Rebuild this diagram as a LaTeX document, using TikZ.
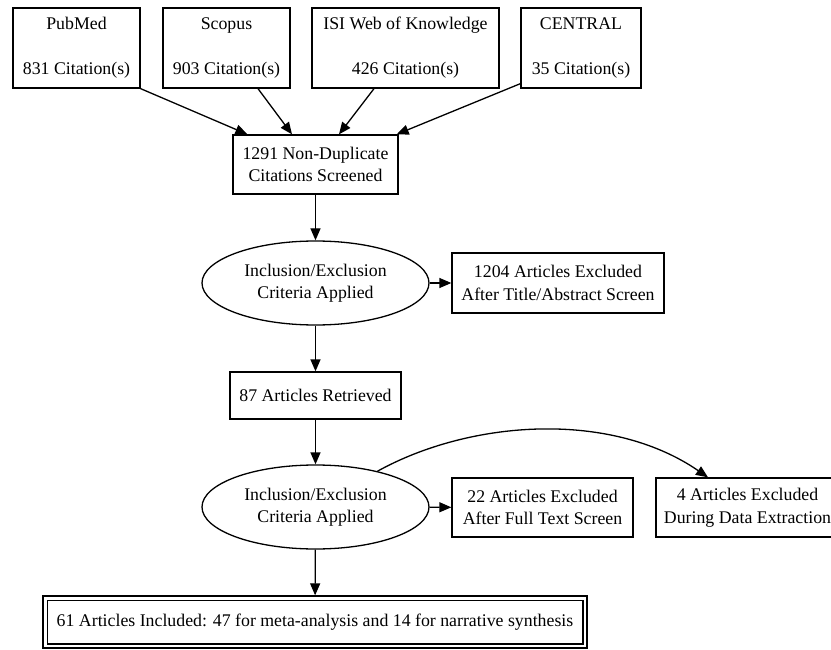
\documentclass[tikz,border=0pt]{standalone}
\usepackage{fontspec}
\setmainfont{Liberation Serif}
\usetikzlibrary{shapes.geometric,arrows.meta,calc}
\begin{document}
\begin{tikzpicture}[x=1pt,y=-1pt,
  every node/.style={font=\fontsize{17.8}{22.5}\selectfont, inner sep=0pt, align=center},
  boxn/.style={draw, rectangle, line width=1.3pt},
  elln/.style={draw, ellipse, line width=1.3pt},
  arr/.style={line width=1.3pt, -{Triangle[length=12pt,width=10pt]}}]
\useasboundingbox (0,0) rectangle (831,650);
\clip (0,0) rectangle (831,650);
% top sources
\node[boxn, minimum width=127pt, minimum height=80pt] (pubmed) at (76.5,48) {PubMed\\[22.5pt]831 Citation(s)};
\node[boxn, minimum width=127pt, minimum height=80pt] (scopus) at (226.5,48) {Scopus\\[22.5pt]903 Citation(s)};
\node[boxn, minimum width=187pt, minimum height=80pt] (isi) at (405.5,48) {ISI Web of Knowledge\\[22.5pt]426 Citation(s)};
\node[boxn, minimum width=120pt, minimum height=80pt] (central) at (581,48) {CENTRAL\\[22.5pt]35 Citation(s)};
% main flow
\node[boxn, minimum width=165pt, minimum height=59pt] (nondup) at (315.5,164.5) {1291 Non-Duplicate\\Citations Screened};
\node[elln, minimum width=227pt, minimum height=84pt] (ell1) at (315.5,283) {Inclusion/Exclusion\\Criteria Applied};
\node[boxn, minimum width=212pt, minimum height=60pt] (exc1) at (558,283) {1204 Articles Excluded\\After Title/Abstract Screen};
\node[boxn, minimum width=171pt, minimum height=47pt] (retr) at (315.5,395.5) {87 Articles Retrieved};
\node[elln, minimum width=227pt, minimum height=84pt] (ell2) at (315.5,507) {Inclusion/Exclusion\\Criteria Applied};
\node[boxn, minimum width=181pt, minimum height=59pt] (exc2) at (542.5,507.5) {22 Articles Excluded\\After Full Text Screen};
\node[boxn, minimum width=183pt, minimum height=59pt] (exc3) at (747.5,507.5) {4 Articles Excluded\\During Data Extraction};
\node[boxn, minimum width=544pt, minimum height=52pt] (final) at (315,622) {61 Articles Included: 47 for meta-analysis and 14 for narrative synthesis};
\draw[line width=1.3pt] ([shift={(4.8pt,-4.8pt)}]final.north west) rectangle ([shift={(-4.8pt,4.8pt)}]final.south east);
% connectors
\draw[arr] (pubmed.south east) -- ($(nondup.north west)+(15,0)$);
\draw[arr] ($(scopus.south)+(31.5,0)$) -- ($(nondup.north)+(-23.5,0)$);
\draw[arr] ($(isi.south)+(-31.5,0)$) -- ($(nondup.north)+(23.5,0)$);
\draw[arr] ($(central.south west)+(0,-5)$) -- ($(nondup.north east)+(-2,0)$);
\draw[arr] (nondup) -- (ell1);
\draw[arr] (ell1) -- (exc1);
\draw[arr] (ell1) -- (retr);
\draw[arr] (retr) -- (ell2);
\draw[arr] (ell2) -- (exc2);
\draw[arr] (ell2.30.5) .. controls (470,420) and (610,410) .. ($(exc3.north)+(-39.5,0)$);
\draw[arr] (ell2) -- (final);
\end{tikzpicture}
\end{document}
